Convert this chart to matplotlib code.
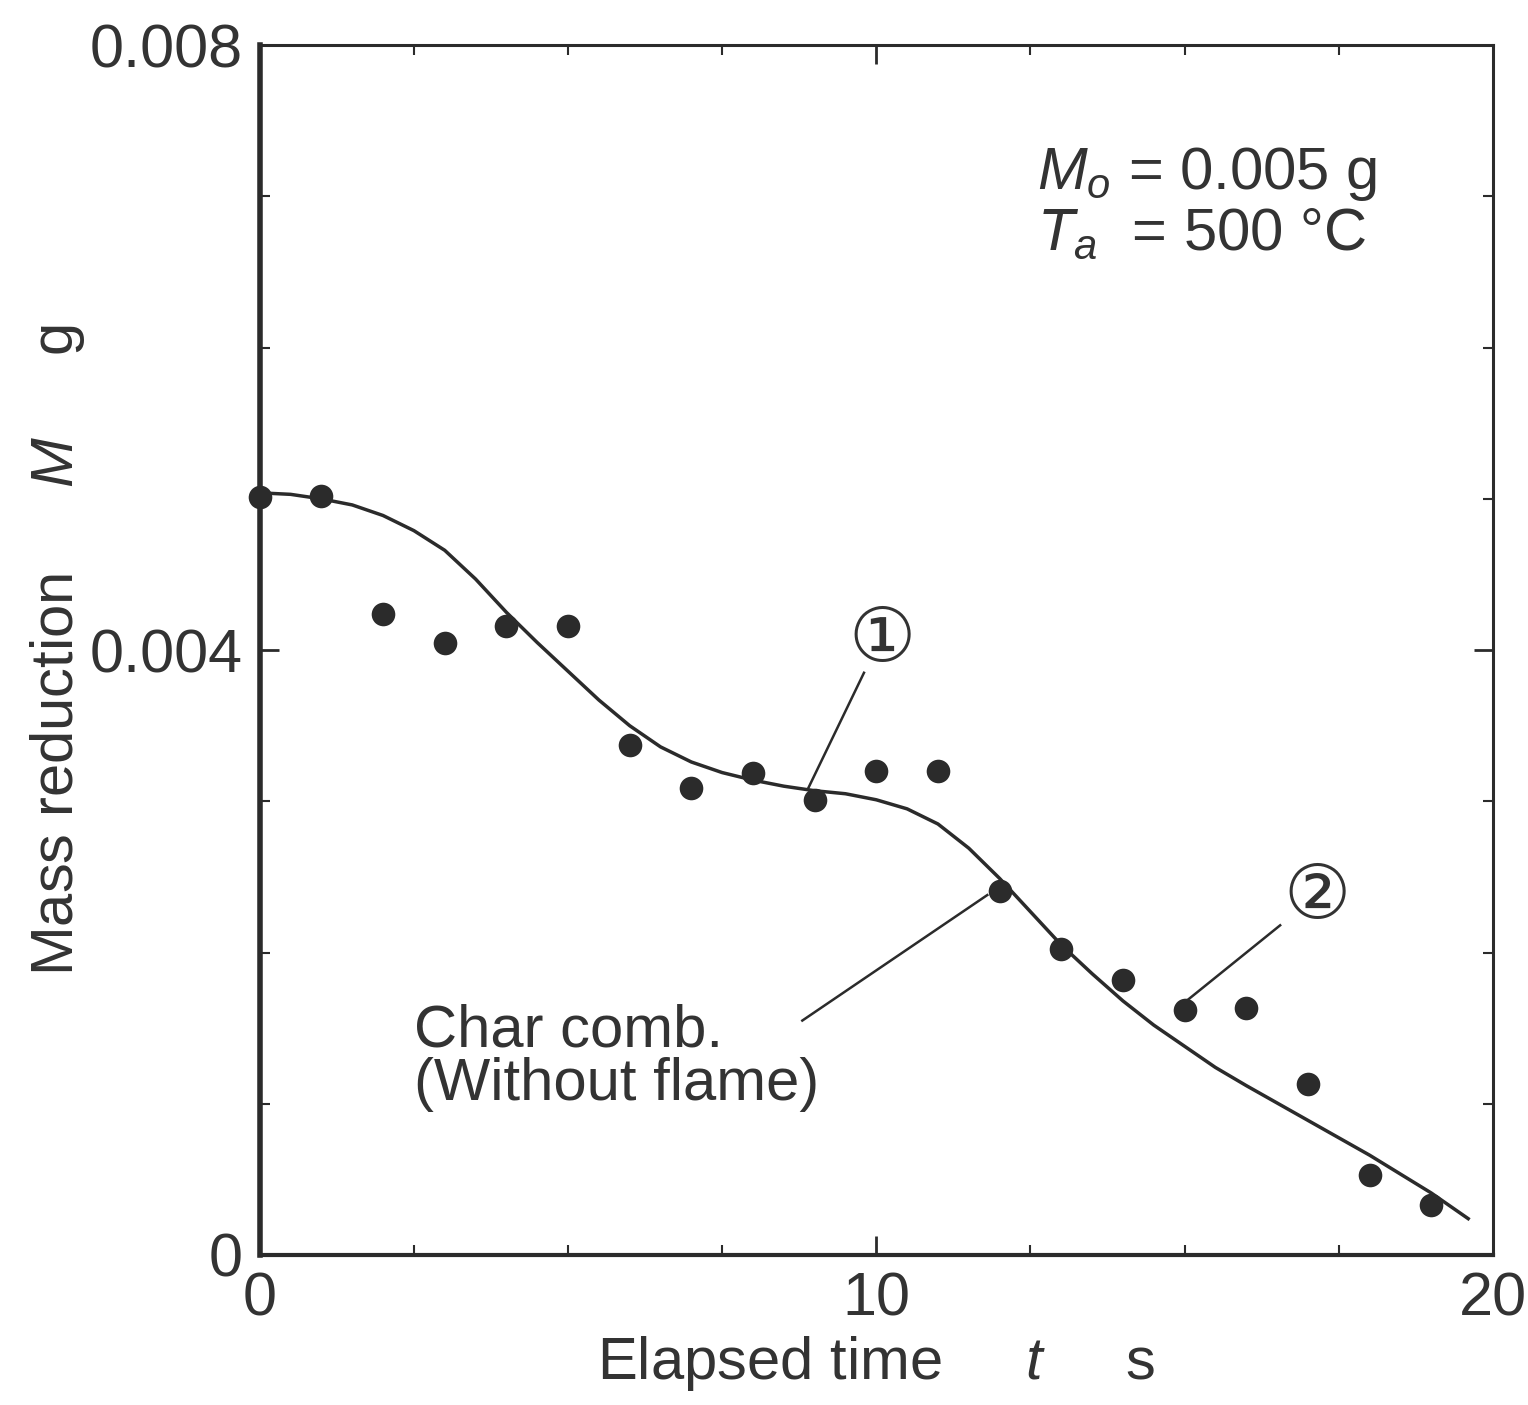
import numpy as np
import matplotlib.pyplot as plt
from matplotlib.ticker import MultipleLocator

plt.rcParams['font.family'] = ['Liberation Sans', 'DejaVu Sans']
plt.rcParams['mathtext.fontset'] = 'custom'
plt.rcParams['mathtext.it'] = 'Liberation Sans:italic'
plt.rcParams['mathtext.rm'] = 'Liberation Sans'

# measured points (char combustion, without flame)
t_meas = [0, 1, 2, 3, 4, 5, 6, 7, 8, 9, 10, 11, 12, 13, 14, 15, 16, 17, 18, 19]
m_meas = [0.00501, 0.00502, 0.00424, 0.00405, 0.00416, 0.00416, 0.00337, 0.00309,
          0.00319, 0.00301, 0.00320, 0.00320, 0.00241, 0.00202, 0.00182, 0.00162,
          0.00163, 0.00113, 0.00053, 0.00033]

# calculated curve
t_calc = [0, 0.5, 1, 1.5, 2, 2.5, 3, 3.5, 4, 4.5, 5, 5.5, 6, 6.5, 7, 7.5, 8, 8.5, 9,
          9.5, 10, 10.5, 11, 11.5, 12, 12.5, 13, 13.5, 14, 14.5, 15, 15.5, 16, 17,
          18, 19, 19.6]
m_calc = [0.00504, 0.00503, 0.00500, 0.00496, 0.00489, 0.00479, 0.00466, 0.00447,
          0.00425, 0.00405, 0.00386, 0.00367, 0.00350, 0.00336, 0.00326, 0.00319,
          0.00314, 0.00310, 0.00307, 0.00305, 0.00301, 0.00295, 0.00285, 0.00269,
          0.00249, 0.00227, 0.00205, 0.00186, 0.00168, 0.00152, 0.00138, 0.00124,
          0.00112, 0.00089, 0.00066, 0.00041, 0.00024]

ink = '#2b2b2b'
txt = '#333333'

fig = plt.figure(figsize=(15.28, 14.05), dpi=100)
ax = fig.add_axes([0.170, 0.1068, 0.807, 0.861])

ax.plot(t_calc, m_calc, color=ink, lw=2.5, zorder=2)
ax.plot(t_meas, m_meas, 'o', color=ink, ms=17, mec='none', zorder=3, clip_on=False)

ax.set_xlim(0, 20)
ax.set_ylim(0, 0.008)
ax.set_xticks([0, 10, 20])
ax.set_xticklabels(['0', '10', '20'])
ax.set_yticks([0, 0.004, 0.008])
ax.set_yticklabels(['0', '0.004', '0.008'])
ax.xaxis.set_minor_locator(MultipleLocator(2.5))
ax.yaxis.set_minor_locator(MultipleLocator(0.001))
ax.tick_params(which='both', direction='in', top=True, right=True, colors=ink,
               labelcolor=txt, labelsize=44)
ax.tick_params(which='major', length=14, width=2)
ax.tick_params(which='minor', length=7, width=1.5)
ax.tick_params(axis='x', pad=12)
ax.tick_params(axis='y', pad=12)
for s in ax.spines.values():
    s.set_color(ink)
    s.set_linewidth(2.2)
ax.spines['left'].set_linewidth(4)
ax.spines['bottom'].set_linewidth(3)

ax.set_xlabel('Elapsed time     $t$     s', fontsize=43, color=txt, labelpad=4)
ax.set_ylabel('Mass reduction     $M$     g', fontsize=43, color=txt, labelpad=2)

ax.text(12.6, 0.00715, '$M_o$ = 0.005 g', fontsize=43, color=txt, va='center')
ax.text(12.6, 0.00675, '$T_a$  = 500 °C', fontsize=43, color=txt, va='center')

ax.text(2.5, 0.00148, 'Char comb.', fontsize=43, color=txt, va='center')
ax.text(2.5, 0.00113, '(Without flame)', fontsize=43, color=txt, va='center')
ax.plot([8.8, 11.8], [0.00155, 0.00238], color=ink, lw=1.8)

ax.text(10.1, 0.00406, '①', fontsize=54, color=txt, ha='center', va='center')
ax.plot([9.8, 8.9], [0.00385, 0.00309], color=ink, lw=1.8)

ax.text(17.15, 0.00236, '②', fontsize=54, color=txt, ha='center', va='center')
ax.plot([16.55, 15.0], [0.00218, 0.00167], color=ink, lw=1.8)

fig.savefig('out.png', dpi=100)
